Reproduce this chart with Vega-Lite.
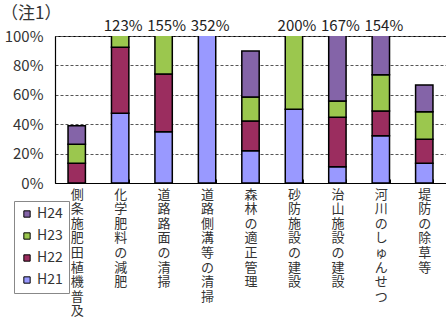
{
  "$schema": "https://vega.github.io/schema/vega-lite/v6.json",
  "width": 391,
  "height": 147,
  "autosize": {"type": "none"},
  "padding": {"left": 55, "top": 36, "right": 0, "bottom": 144},
  "background": "white",
  "title": {"text": "（注1）", "anchor": "start", "frame": "group", "dx": -54, "offset": -4, "fontSize": 17, "fontWeight": "normal", "color": "#333333", "font": "Noto Sans CJK JP"},
  "config": {
    "font": "Noto Sans CJK JP",
    "view": {"stroke": "black", "strokeWidth": 1}
  },
  "datasets": {
    "bars": [
      {"category": "側条施肥田植機普及", "series": "H22", "o": 2, "value": 13.4},
      {"category": "側条施肥田植機普及", "series": "H23", "o": 3, "value": 12.9},
      {"category": "側条施肥田植機普及", "series": "H24", "o": 4, "value": 12.7},
      {"category": "化学肥料の減肥", "series": "H21", "o": 1, "value": 47.4},
      {"category": "化学肥料の減肥", "series": "H22", "o": 2, "value": 44.9},
      {"category": "化学肥料の減肥", "series": "H23", "o": 3, "value": 30.7},
      {"category": "道路路面の清掃", "series": "H21", "o": 1, "value": 34.9},
      {"category": "道路路面の清掃", "series": "H22", "o": 2, "value": 39.2},
      {"category": "道路路面の清掃", "series": "H23", "o": 3, "value": 80.9},
      {"category": "道路側溝等の清掃", "series": "H21", "o": 1, "value": 352},
      {"category": "森林の適正管理", "series": "H21", "o": 1, "value": 22.0},
      {"category": "森林の適正管理", "series": "H22", "o": 2, "value": 20.2},
      {"category": "森林の適正管理", "series": "H23", "o": 3, "value": 16.3},
      {"category": "森林の適正管理", "series": "H24", "o": 4, "value": 31.3},
      {"category": "砂防施設の建設", "series": "H21", "o": 1, "value": 50.1},
      {"category": "砂防施設の建設", "series": "H23", "o": 3, "value": 149.9},
      {"category": "治山施設の建設", "series": "H21", "o": 1, "value": 11.1},
      {"category": "治山施設の建設", "series": "H22", "o": 2, "value": 33.6},
      {"category": "治山施設の建設", "series": "H23", "o": 3, "value": 11.1},
      {"category": "治山施設の建設", "series": "H24", "o": 4, "value": 111.2},
      {"category": "河川のしゅんせつ", "series": "H21", "o": 1, "value": 32.2},
      {"category": "河川のしゅんせつ", "series": "H22", "o": 2, "value": 16.8},
      {"category": "河川のしゅんせつ", "series": "H23", "o": 3, "value": 24.7},
      {"category": "河川のしゅんせつ", "series": "H24", "o": 4, "value": 80.3},
      {"category": "堤防の除草等", "series": "H21", "o": 1, "value": 13.4},
      {"category": "堤防の除草等", "series": "H22", "o": 2, "value": 16.3},
      {"category": "堤防の除草等", "series": "H23", "o": 3, "value": 18.8},
      {"category": "堤防の除草等", "series": "H24", "o": 4, "value": 18.2}
    ],
    "totals": [
      {"category": "化学肥料の減肥", "label": "123%", "top": 100},
      {"category": "道路路面の清掃", "label": "155%", "top": 100},
      {"category": "道路側溝等の清掃", "label": "352%", "top": 100},
      {"category": "砂防施設の建設", "label": "200%", "top": 100},
      {"category": "治山施設の建設", "label": "167%", "top": 100},
      {"category": "河川のしゅんせつ", "label": "154%", "top": 100}
    ]
  },
  "layer": [
    {
      "data": {"name": "bars"},
      "mark": {"type": "bar", "clip": true, "stroke": "black", "strokeWidth": 1.5},
      "encoding": {
        "x": {
          "field": "category", "type": "nominal",
          "sort": ["側条施肥田植機普及", "化学肥料の減肥", "道路路面の清掃", "道路側溝等の清掃", "森林の適正管理", "砂防施設の建設", "治山施設の建設", "河川のしゅんせつ", "堤防の除草等"],
          "scale": {"paddingInner": 0.6, "paddingOuter": 0.3},
          "axis": {
            "title": null, "labelAngle": 0, "labelExpr": "split(datum.label, '')",
            "labelFontSize": 13, "labelLineHeight": 14.6, "labelBaseline": "top", "labelPadding": 9,
            "labelColor": "#333333", "domainColor": "black", "domainWidth": 1.2,
            "tickBand": "extent", "tickColor": "black", "tickSize": -4, "labelLimit": 0
          }
        },
        "y": {
          "field": "value", "type": "quantitative", "stack": "zero",
          "scale": {"domain": [0, 100], "nice": false},
          "axis": {
            "title": null, "values": [0, 20, 40, 60, 80, 100],
            "labelExpr": "datum.value + '%'", "labelFontSize": 15, "labelColor": "#333333",
            "labelOverlap": false, "labelFlush": false,
            "labelPadding": 12, "ticks": false, "domainColor": "black", "domainWidth": 1.2,
            "grid": true, "gridColor": "#555555", "gridDash": [3, 2], "gridWidth": 1
          }
        },
        "color": {
          "field": "series", "type": "nominal",
          "scale": {"domain": ["H24", "H23", "H22", "H21"], "range": ["#8464A8", "#9BC74E", "#9B2D5F", "#9999FF"]},
          "legend": {
            "title": null, "orient": "none", "legendX": -41, "legendY": 165,
            "symbolType": "square", "symbolSize": 40, "symbolStrokeColor": "black", "symbolStrokeWidth": 1,
            "labelFontSize": 14, "labelColor": "#333333", "labelOffset": 3,
            "rowPadding": 8, "padding": 6, "strokeColor": "#888888", "fillColor": "white",
            "clipHeight": 14
          }
        },
        "order": {"field": "o", "type": "quantitative"}
      }
    },
    {
      "data": {"name": "totals"},
      "mark": {"type": "text", "fontSize": 15, "color": "#222222", "baseline": "alphabetic", "dy": -5, "dx": 3},
      "encoding": {
        "x": {
          "field": "category", "type": "nominal",
          "sort": ["側条施肥田植機普及", "化学肥料の減肥", "道路路面の清掃", "道路側溝等の清掃", "森林の適正管理", "砂防施設の建設", "治山施設の建設", "河川のしゅんせつ", "堤防の除草等"],
          "axis": {
            "title": null, "labelAngle": 0, "labelExpr": "split(datum.label, '')",
            "labelFontSize": 13, "labelLineHeight": 14.6, "labelBaseline": "top", "labelPadding": 9,
            "labelColor": "#333333", "domainColor": "black", "domainWidth": 1.2,
            "tickBand": "extent", "tickColor": "black", "tickSize": -4, "labelLimit": 0
          }
        },
        "y": {
          "field": "top", "type": "quantitative",
          "axis": {
            "title": null, "values": [0, 20, 40, 60, 80, 100],
            "labelExpr": "datum.value + '%'", "labelFontSize": 15, "labelColor": "#333333",
            "labelOverlap": false, "labelFlush": false,
            "labelPadding": 12, "ticks": false, "domainColor": "black", "domainWidth": 1.2,
            "grid": true, "gridColor": "#555555", "gridDash": [3, 2], "gridWidth": 1
          }
        },
        "text": {"field": "label"}
      }
    }
  ]
}
